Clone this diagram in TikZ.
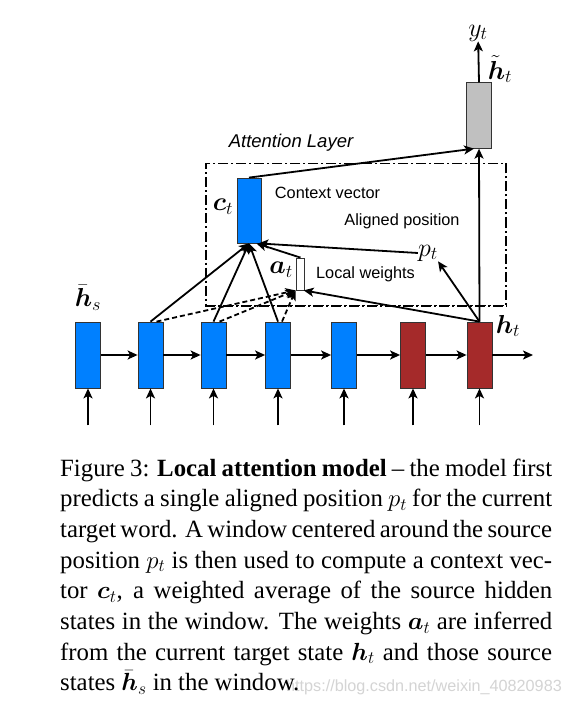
\RequirePackage{fix-cm}
\documentclass[tikz,border=0pt]{standalone}
\usepackage{fontspec}
\setmainfont{Liberation Serif}
\setsansfont{Liberation Sans}
\usepackage{amsmath}
\usepackage{bm}
\usetikzlibrary{arrows.meta,positioning}
\definecolor{SrcBlue}{HTML}{0080FF}
\definecolor{TgtRed}{HTML}{A52A2A}
\definecolor{AttnGray}{HTML}{C0C0C0}
\definecolor{WmGray}{HTML}{D4D4D4}

\begin{document}
\begin{tikzpicture}[x=1pt, y=-1pt,
  cell/.style={draw=black!80, line width=0.8pt, minimum width=25pt,
               minimum height=66pt, inner sep=0pt, fill=#1},
  msg/.style={-{Stealth[length=10pt, width=9pt, inset=2.5pt]}, line width=1.8pt},
  weakmsg/.style={msg, dash pattern=on 5pt off 3pt},
  note/.style={font=\sffamily\fontsize{16.3}{18}\selectfont},
  sym/.style={font=\fontsize{26}{28}\selectfont, inner sep=0pt},
  attnframe/.style={draw, line width=1.3pt, inner sep=0pt,
                    dash pattern=on 10pt off 3pt on 2pt off 3pt}
]
\useasboundingbox (0,0) rectangle (572,703);
\fill[white] (0,0) rectangle (572,703);

% Source hidden states and target states
\node[cell=SrcBlue] (s1) at (88,355) {};
\node[cell=SrcBlue] (s2) at (150.5,355) {};
\node[cell=SrcBlue] (s3) at (213.5,355) {};
\node[cell=SrcBlue] (s4) at (278,355) {};
\node[cell=SrcBlue] (s5) at (344,355) {};
\node[cell=TgtRed] (s6) at (413,355) {};
\node[cell=TgtRed] (s7) at (479.5,355) {};
\node[sym] (hs) at (88,298) {$\bar{\bm{h}}_s$};
\node[sym] (htl) at (508,326) {$\bm{h}_t$};

% Recurrent links
\draw[msg] (s1) -- (s2);
\draw[msg] (s2) -- (s3);
\draw[msg] (s3) -- (s4);
\draw[msg] (s4) -- (s5);
\draw[msg] (s5) -- (s6);
\draw[msg] (s6) -- (s7);
\coordinate (out) at (533,355);
\draw[msg] (s7) -- (out);

% Inputs
\foreach \i in {1,...,7} {
  \coordinate (in\i) at ([yshift=-37pt]s\i.south);
  \draw[msg] (in\i) -- (s\i.south);
}

% Attention layer
\node[attnframe, minimum width=300pt, minimum height=142pt] (attn) at (356,234.5) {};
\draw[attnframe, line width=2.6pt] (attn.south west) -- (attn.south east);
\node[note, font=\sffamily\itshape\fontsize{18.5}{20}\selectfont] (title) at (291,143) {Attention Layer};

% Context vector
\node[cell=SrcBlue, minimum width=24pt, minimum height=65pt] (ct) at (249,210.5) {};
\node[sym] (ctl) at (223,207) {$\bm{c}_t$};
\node[note] (cv) at (327.5,192.5) {Context vector};

% Local weights
\node[cell=white, minimum width=7.5pt, minimum height=32pt] (at) at (300.5,274) {};
\node[sym] (atl) at (281,270) {$\bm{a}_t$};
\node[note] (lw) at (365.5,274) {Local weights};

% Aligned position
\node[sym] (pt) at (428,253) {$p_t$};
\node[note] (ap) at (402,221.5) {Aligned position};

% Attentional hidden state
\node[cell=AttnGray, minimum height=65.5pt] (ht) at (479,115.5) {};
\node[sym] (yt) at (478,33) {$y_t$};
\node[sym] (htt) at (500,69) {$\tilde{\bm{h}}_t$};
\draw[msg] (ht.north) -- (yt);

% Links into the attentional state
\draw[msg] (ct.north) -- ([xshift=-5pt]ht.south);
\draw[msg] (s7.north) -- (ht.south);

% h_t predicts p_t, p_t feeds c_t
\draw[msg] (s7.north) -- (pt.south east);
\draw[msg] (pt.west) -- ([xshift=-3pt]ct.south east);

% h_t gives a_t, a_t weights c_t
\draw[msg] (s7.north) -- ([xshift=-1pt]at.south east);
\draw[msg] (at.north) -- ([xshift=-5pt]ct.south east);

% Window of source states
\draw[msg] (s2.north) -- (ct.south);
\draw[msg] (s3.north) -- (ct.south);
\draw[msg] (s4.north) -- (ct.south);
\draw[weakmsg] ([xshift=6pt]s2.north) -- ([xshift=-5pt]at.south);
\draw[weakmsg] ([xshift=6pt]s3.north) -- ([xshift=-5pt]at.south);
\draw[weakmsg] ([xshift=4pt]s4.north) -- ([xshift=-5pt]at.south);

% Caption
\node[anchor=base east, inner sep=0pt, text=WmGray,
      font=\sffamily\fontsize{16.2}{18}\selectfont] (wm) at (562,691)
  {https://blog.csdn.net/weixin\_40820983};
\node[anchor=base west, inner sep=0pt, text width=492pt, align=justify,
      font=\fontsize{24.8}{30.7}\selectfont] (cap) at (60,476)
  {Figure 3: \textbf{Local attention model} -- the model first\linebreak
   predicts a single aligned position $p_t$ for the current\linebreak
   target word. A window centered around the source\linebreak
   position $p_t$ is then used to compute a context vec-\linebreak
   tor $\bm{c}_t$, a weighted average of the source hidden\linebreak
   states in the window. The weights $\bm{a}_t$ are inferred\linebreak
   from the current target state $\bm{h}_t$ and those source\linebreak
   states $\bar{\bm{h}}_s$ in the window.};

\end{tikzpicture}
\end{document}
